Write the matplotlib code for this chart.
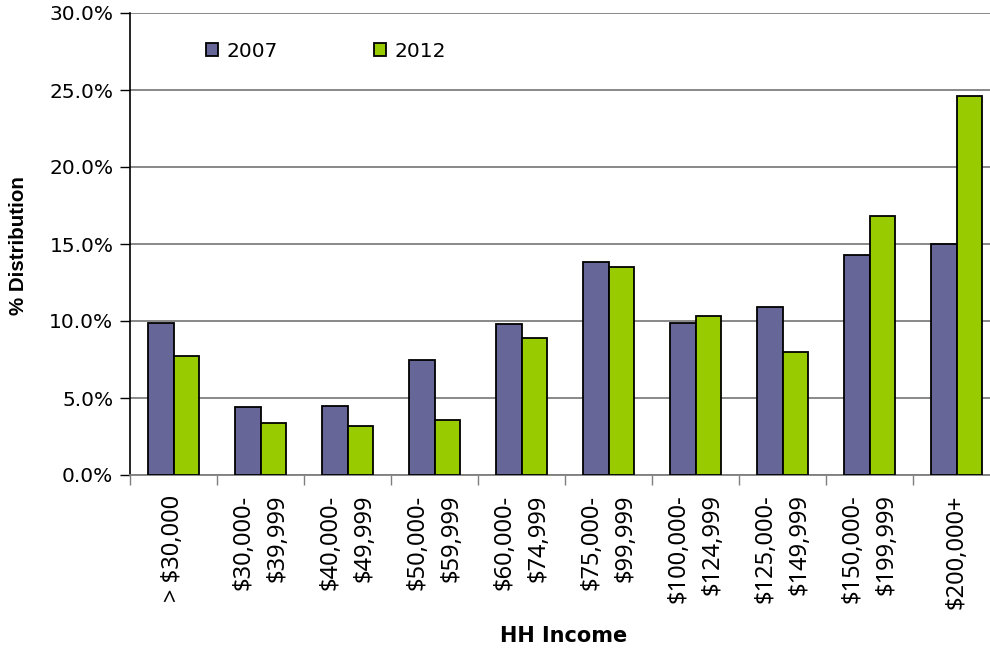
import matplotlib
matplotlib.use('Agg')
import matplotlib.pyplot as plt
import numpy as np
from matplotlib.ticker import FuncFormatter, FixedLocator

# Household income distribution, share of households (%)
categories = ['> $30,000', '$30,000-\n$39,999', '$40,000-\n$49,999',
              '$50,000-\n$59,999', '$60,000-\n$74,999', '$75,000-\n$99,999',
              '$100,000-\n$124,999', '$125,000-\n$149,999',
              '$150,000-\n$199,999', '$200,000+']
share_2007 = [9.9, 4.4, 4.5, 7.5, 9.8, 13.8, 9.9, 10.9, 14.3, 15.0]
share_2012 = [7.7, 3.4, 3.2, 3.6, 8.9, 13.5, 10.3, 8.0, 16.8, 24.6]
years = ['2007', '2012']

C_2007 = '#666699'
C_2012 = '#99cc00'
C_GRID = '#7f7f7f'
FONT_H = 'DejaVu Sans'   # horizontal text
FONT_V = 'Noto Sans'     # rotated category labels

fig = plt.figure(figsize=(9.9, 6.49), dpi=100)
fig.patch.set_facecolor('white')
# axes runs a little past the right edge of the canvas
ax = fig.add_axes([130 / 990, 1 - 475 / 649, 870 / 990, 462 / 649])

x = np.arange(len(categories))
w = 0.29
ax.bar(x - w / 2, share_2007, w, color=C_2007, edgecolor='black',
       linewidth=1.3, label=years[0], zorder=3)
ax.bar(x + w / 2, share_2012, w, color=C_2012, edgecolor='black',
       linewidth=1.3, label=years[1], zorder=3)

ax.set_xlim(-0.5, len(categories) - 0.5)
ax.set_ylim(0, 30)
ax.set_yticks(np.arange(0, 30.1, 5))
ax.yaxis.set_major_formatter(FuncFormatter(lambda v, _: f'{v:.1f}%'))
ax.yaxis.grid(True, color=C_GRID, linewidth=1.3, zorder=0)

# tick marks between groups, labels under group centres
ax.xaxis.set_major_locator(FixedLocator(np.arange(-0.5, len(categories), 1.0)))
ax.xaxis.set_major_formatter(FuncFormatter(lambda v, _: ''))
ax.xaxis.set_minor_locator(FixedLocator(x))
ax.set_xticklabels(categories, minor=True, rotation=90, ha='center',
                   va='top', multialignment='right', linespacing=1.6,
                   fontsize=17, family=FONT_V)
ax.tick_params(axis='x', which='major', length=7, width=1, color=C_GRID,
               direction='out')
ax.tick_params(axis='x', which='minor', length=0, pad=14)
ax.tick_params(axis='y', length=7, width=1, color='black', pad=5)
for lbl in ax.get_yticklabels():
    lbl.set_fontsize(14.5)
    lbl.set_family(FONT_H)

for s in ['top', 'right']:
    ax.spines[s].set_visible(False)
ax.spines['left'].set_color('black')
ax.spines['left'].set_linewidth(1.2)
ax.spines['bottom'].set_color(C_GRID)
ax.spines['bottom'].set_linewidth(1.3)

fig.text(19 / 990, 1 - 246 / 649, '% Distribution', rotation=90,
         ha='center', va='center', fontsize=14.8, fontweight='bold',
         family='Liberation Sans')
fig.text(564 / 990, 1 - 636 / 649, 'HH Income', ha='center', va='center',
         fontsize=15, fontweight='bold', family=FONT_H)

leg = ax.legend(loc='upper left', bbox_to_anchor=(0.066, 0.977), ncol=2,
                frameon=False, handlelength=0.6, handleheight=0.6,
                handletextpad=0.45, columnspacing=4.75,
                prop={'family': FONT_H, 'size': 14.5})

fig.savefig('out.png', dpi=100, facecolor='white')
